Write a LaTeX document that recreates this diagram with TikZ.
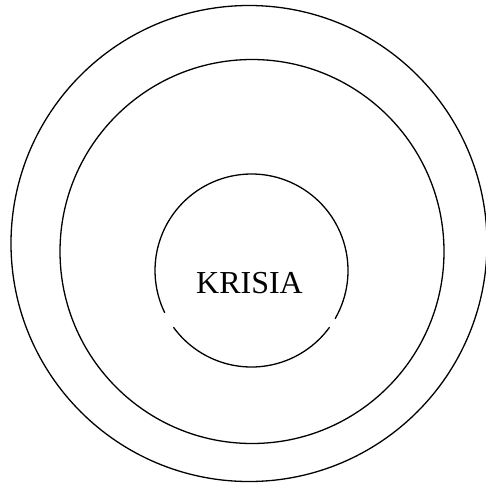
\documentclass[tikz,border=0pt]{standalone}
\usepackage{fontspec}
\setmainfont{Liberation Serif}
\begin{document}
\begin{tikzpicture}[x=1pt,y=1pt,ring/.style={draw=black,line width=1.3pt}]
\useasboundingbox (0,0) rectangle (486,-485);
\clip (0,0) rectangle (486,-485);
\draw[ring] (249,-243.5) circle[radius=238];
\draw[ring] (252,-251.5) circle[radius=192];
\coordinate (c) at (251.5,-270.5);
\draw[ring] (c) ++(-30:96.5) arc[start angle=-30,end angle=206,radius=96.5];
\draw[ring] (c) ++(216:96.5) arc[start angle=216,end angle=324,radius=96.5];
\node[anchor=base,inner sep=0pt,font=\fontsize{32}{38}\selectfont] (label) at (249.5,-293) {KRISIA};
\end{tikzpicture}
\end{document}
